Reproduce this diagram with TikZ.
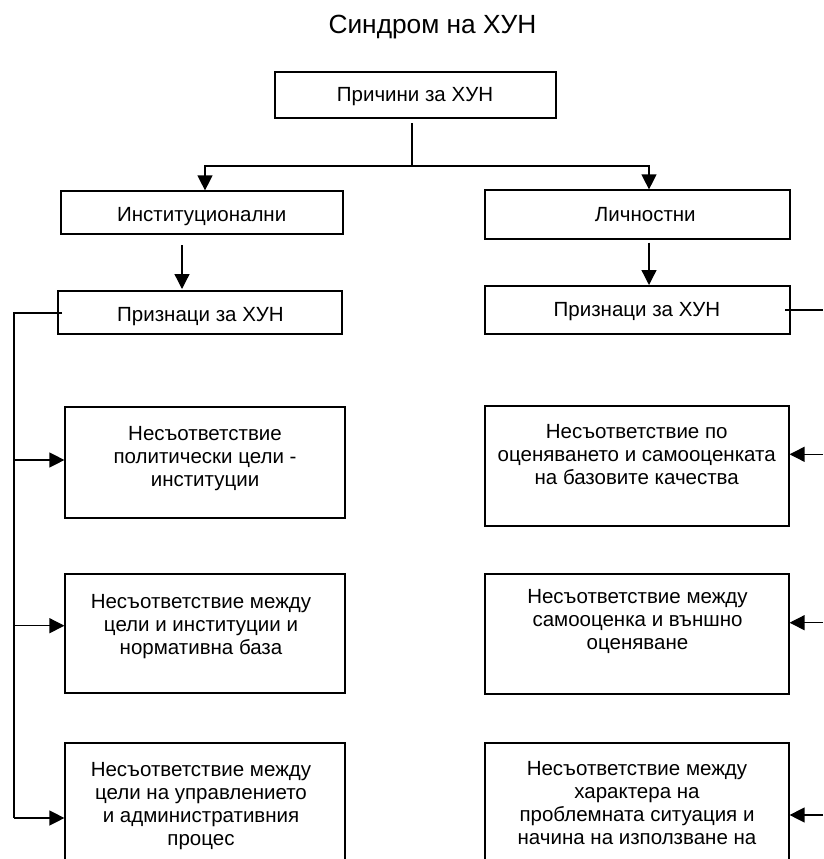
\documentclass[tikz,border=0pt]{standalone}
\usepackage{fontspec}
\setmainfont{Liberation Sans}
\usetikzlibrary{arrows.meta}
\begin{document}
\begin{tikzpicture}[x=1pt,y=-1pt,
  box/.style={draw, line width=1.2pt, inner sep=0pt},
  txt/.style={font=\fontsize{20.5}{23}\selectfont, align=center, inner sep=0pt},
  ttl/.style={font=\fontsize{26.3}{30}\selectfont, inner sep=0pt},
  line/.style={line width=1.3pt},
  arr/.style={line width=1.3pt, -{Triangle[length=15pt,width=15pt]}}]
\clip (0,0) rectangle (823,859);
\fill[white] (0,0) rectangle (823,859);

% title
\node[ttl, anchor=base] (title) at (432.5,33.3) {Синдром на ХУН};

% boxes
\node[box, minimum width=281pt, minimum height=46pt] (top) at (415.5,95) {};
\node[box, minimum width=282pt, minimum height=43pt] (inst) at (202,212.5) {};
\node[box, minimum width=305pt, minimum height=49pt] (lich) at (637.5,214.5) {};
\node[box, minimum width=284pt, minimum height=43pt] (prL) at (200,312.5) {};
\node[box, minimum width=305pt, minimum height=48pt] (prR) at (637.5,310) {};
\node[box, minimum width=280pt, minimum height=111pt] (lb1) at (205,462.5) {};
\node[box, minimum width=280pt, minimum height=119pt] (lb2) at (205,633.5) {};
\node[box, minimum width=280pt, minimum height=127pt] (lb3) at (205,806.5) {};
\node[box, minimum width=304pt, minimum height=120pt] (rb1) at (637,466) {};
\node[box, minimum width=304pt, minimum height=120pt] (rb2) at (637,634) {};
\node[box, minimum width=304pt, minimum height=127pt] (rb3) at (637,806.5) {};

% texts
\node[txt, anchor=base] (ttop) at (415,101.7) {Причини за ХУН};
\node[txt, anchor=base] (tinst) at (201.7,221) {Институционални};
\node[txt, anchor=base] (tlich) at (645.3,221) {Личностни};
\node[txt, anchor=base] (tprL) at (200.5,321.7) {Признаци за ХУН};
\node[txt, anchor=base] (tprR) at (637,316.7) {Признаци за ХУН};
\node[txt] (tlb1) at (205,459) {Несъответствие\\политически цели -\\институции};
\node[txt] (tlb2) at (201,626.7) {Несъответствие между\\цели и институции и\\нормативна база};
\node[txt] (tlb3) at (201,806) {Несъответствие между\\цели на управлението\\и административния\\процес};
\node[txt] (trb1) at (636.7,454.3) {Несъответствие по\\оценяването и самооценката\\на базовите качества};
\node[txt] (trb2) at (637.5,621) {Несъответствие между\\самооценка и външно\\оценяване};
\node[txt] (trb3) at (637,803.3) {Несъответствие между\\характера на\\проблемната ситуация и\\начина на използване на};

% top connectors
\coordinate (j0) at (412,123);
\coordinate (j1) at (412,166);
\coordinate (jl) at (205,166);
\coordinate (jr) at (649,166);
\draw[line] (j0) -- (j1);
\draw[arr] (j1) -- (jl) -- (jl |- inst.north);
\draw[arr] (j1) -- (jr) -- (jr |- lich.north);

% second level arrows
\coordinate (a1s) at (182,245);
\coordinate (a1e) at (182,289);
\draw[arr] (a1s) -- (a1e);
\coordinate (a2s) at (649,242.7);
\coordinate (a2e) at (649,285);
\draw[arr] (a2s) -- (a2e);

% left bus
\coordinate (pl) at (62,313);
\coordinate (busT) at (14,313);
\coordinate (bl1) at (14,460);
\coordinate (bl2) at (14,625.7);
\coordinate (bl3) at (14,818);
\draw[line] (pl) -- (busT) -- (bl3);
\draw[arr] (bl1) -- (bl1 -| lb1.west);
\draw[arr] (bl2) -- (bl2 -| lb2.west);
\draw[arr] (bl3) -- (bl3 -| lb3.west);

% right side
\coordinate (pr) at (785,310);
\coordinate (pre) at (823,310);
\draw[line] (pr) -- (pre);
\coordinate (br1) at (823,454.3);
\coordinate (br2) at (823,622.7);
\coordinate (br3) at (823,815);
\draw[arr] (br1) -- (br1 -| rb1.east);
\draw[arr] (br2) -- (br2 -| rb2.east);
\draw[arr] (br3) -- (br3 -| rb3.east);
\end{tikzpicture}
\end{document}
